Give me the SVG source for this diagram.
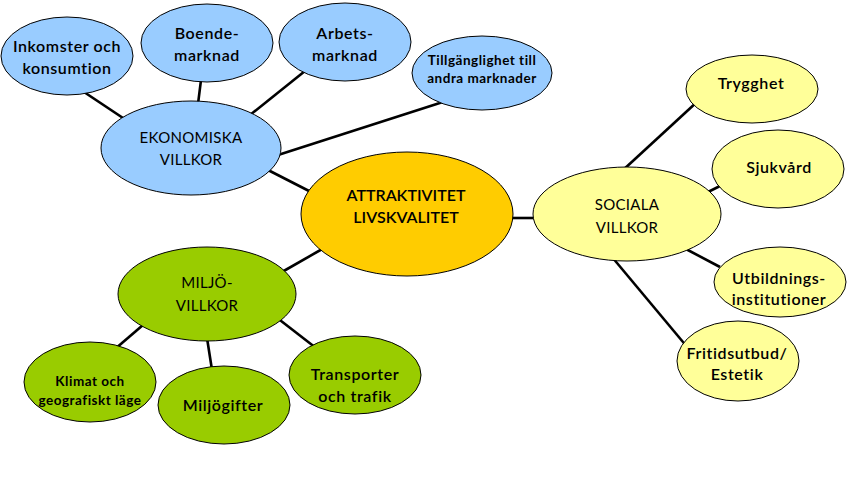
<svg xmlns="http://www.w3.org/2000/svg" width="847" height="490" viewBox="0 0 847 490">
<style>
.e{stroke:#000;stroke-width:1}
.b{fill:#99CCFF}.o{fill:#FFCC00}.y{fill:#FFFF99}.g{fill:#99CC00}
.c line{stroke:#000;stroke-width:2.6}
text{font-family:Lato,"Liberation Sans",sans-serif;fill:#000;text-anchor:middle;font-size:16px}
.m{font-weight:600;letter-spacing:0.6px}
.a{font-weight:600}
.s{font-weight:bold;font-size:13.5px;letter-spacing:0.5px}
.r{font-size:15px;letter-spacing:0.3px}
</style>
<rect width="847" height="490" fill="#fff"/>
<g class="c" id="connectors">
<line x1="84" y1="92" x2="126" y2="120"/>
<line x1="201" y1="80" x2="198" y2="104"/>
<line x1="305" y1="71" x2="250" y2="115"/>
<line x1="446" y1="101" x2="278" y2="155"/>
<line x1="268" y1="170" x2="311" y2="192"/>
<line x1="508" y1="218" x2="538" y2="218"/>
<line x1="324" y1="248" x2="282" y2="272"/>
<line x1="622" y1="171" x2="698" y2="101"/>
<line x1="704" y1="194" x2="722" y2="185"/>
<line x1="684" y1="248" x2="720" y2="267"/>
<line x1="612" y1="257" x2="688" y2="348"/>
<line x1="143" y1="325" x2="115" y2="349"/>
<line x1="207" y1="338" x2="212" y2="370"/>
<line x1="276" y1="317" x2="316" y2="348"/>
</g>
<g id="inkomster"><ellipse class="e b" cx="67" cy="56" rx="66" ry="39"/><text x="67" y="52" class="m">Inkomster och</text><text x="67" y="74" class="m">konsumtion</text></g>
<g id="boende"><ellipse class="e b" cx="207" cy="43" rx="66" ry="39"/><text x="207" y="39" class="m">Boende-</text><text x="207" y="61" class="m">marknad</text></g>
<g id="arbets"><ellipse class="e b" cx="345" cy="42" rx="66" ry="39"/><text x="345" y="39" class="m">Arbets-</text><text x="345" y="61" class="m">marknad</text></g>
<g id="tillganglighet"><ellipse class="e b" cx="482" cy="73" rx="70" ry="37"/><text x="482" y="65" class="s">Tillgänglighet till</text><text x="482" y="83" class="s">andra marknader</text></g>
<g id="ekonomiska"><ellipse class="e b" cx="191" cy="148" rx="90" ry="47"/><text x="191" y="143" class="r">EKONOMISKA</text><text x="191" y="165" class="r">VILLKOR</text></g>
<g id="attraktivitet"><ellipse class="e o" cx="407" cy="214" rx="106" ry="62"/><text x="406" y="201" class="a">ATTRAKTIVITET</text><text x="406" y="223" class="a">LIVSKVALITET</text></g>
<g id="sociala"><ellipse class="e y" cx="627" cy="214" rx="94" ry="47"/><text x="627" y="210" class="r">SOCIALA</text><text x="627" y="233" class="r">VILLKOR</text></g>
<g id="trygghet"><ellipse class="e y" cx="752" cy="89" rx="66" ry="34"/><text x="751" y="89" class="m">Trygghet</text></g>
<g id="sjukvard"><ellipse class="e y" cx="778" cy="169" rx="66" ry="39"/><text x="779" y="173" class="m">Sjukvård</text></g>
<g id="utbildning"><ellipse class="e y" cx="780" cy="282" rx="66" ry="35"/><text x="779" y="284" class="m">Utbildnings-</text><text x="779" y="305" class="m">institutioner</text></g>
<g id="fritid"><ellipse class="e y" cx="738" cy="361" rx="61" ry="40"/><text x="737" y="359" class="m">Fritidsutbud/</text><text x="737" y="380" class="m">Estetik</text></g>
<g id="miljo"><ellipse class="e g" cx="207" cy="294" rx="89" ry="47"/><text x="207" y="288" class="r">MILJÖ-</text><text x="207" y="311" class="r">VILLKOR</text></g>
<g id="klimat"><ellipse class="e g" cx="90" cy="382" rx="66" ry="40"/><text x="90" y="386" class="s">Klimat och</text><text x="90" y="405" class="s">geografiskt läge</text></g>
<g id="miljogifter"><ellipse class="e g" cx="224" cy="405" rx="66" ry="39"/><text x="223" y="411" class="m">Miljögifter</text></g>
<g id="transporter"><ellipse class="e g" cx="355" cy="375" rx="66" ry="39"/><text x="355" y="380" class="m">Transporter</text><text x="355" y="402" class="m">och trafik</text></g>
</svg>
